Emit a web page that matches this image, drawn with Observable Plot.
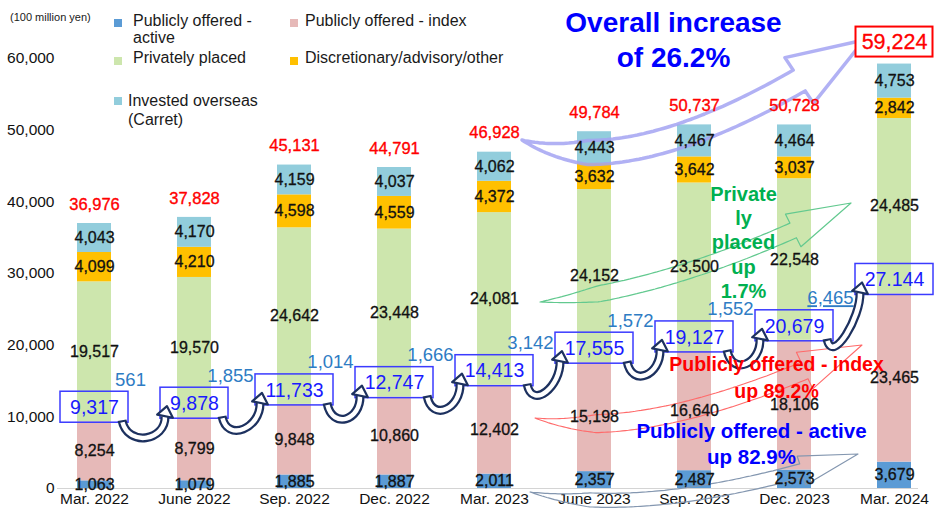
<!DOCTYPE html>
<html><head><meta charset="utf-8">
<script src="https://cdn.jsdelivr.net/npm/d3@7"></script>
<script src="https://cdn.jsdelivr.net/npm/@observablehq/plot@0.6"></script>
<style>
body{margin:0;background:#fff;font-family:"Liberation Sans",Arial,Helvetica,sans-serif;}
#wrap{position:relative;width:940px;height:509px;overflow:hidden;background:#fff;}
#chart{position:absolute;left:0;top:0;}
.lg{position:absolute;font-size:16px;color:#1a1a1a;line-height:17px;white-space:nowrap;}
.sw{position:absolute;width:8px;height:8px;}
</style></head><body>
<div id="wrap"><div id="chart"></div></div>
<script>
// ---------- data ----------
const categories = ["Mar. 2022","June 2022","Sep. 2022","Dec. 2022","Mar. 2023","June 2023","Sep. 2023","Dec. 2023","Mar. 2024"];
const seriesNames = ["Publicly offered - active","Publicly offered - index","Privately placed","Discretionary/advisory/other","Invested overseas (Carret)"];
const legendLabels = ["Publicly offered -<br>active","Publicly offered - index","Privately placed","Discretionary/advisory/other","Invested overseas<br>(Carret)"];
const seriesColors = ["#5b9bd5","#e6b9b8","#cde6ad","#ffc000","#92cddc"];
const publiclyActive = [1063,1079,1885,1887,2011,2357,2487,2573,3679];
const publiclyIndex = [8254,8799,9848,10860,12402,15198,16640,18106,23465];
const privatelyPlaced = [19517,19570,24642,23448,24081,24152,23500,22548,24485];
const discretionary = [4099,4210,4598,4559,4372,3632,3642,3037,2842];
const investedOverseas = [4043,4170,4159,4037,4062,4443,4467,4464,4753];
const totals = [36976,37828,45131,44791,46928,49784,50737,50728,59224];
const publicTotals = [9317,9878,11733,12747,14413,17555,19127,20679,27144];
const publicTotalLabels = ["9,317","9,878","11,733","12,747","14,413","17,555","19,127","20,679","27.144"];
const publicIncrease = [561,1855,1014,1666,3142,1572,1552,6465];
const yTicks = [0,10000,20000,30000,40000,50000,60000];
const unitLabel = "(100 million yen)";

const FONT = '"Liberation Sans", Arial, Helvetica, sans-serif';
const fmt = d3.format(",");

// ---------- derived tables ----------
const seriesValues = [publiclyActive, publiclyIndex, privatelyPlaced, discretionary, investedOverseas];
const rows = [];
categories.forEach((cat, i) => {
  let lo = 0;
  seriesValues.forEach((vals, s) => {
    const v = vals[i];
    rows.push({cat, series: seriesNames[s], value: v, lo, hi: lo + v});
    lo += v;
  });
});
const totalRows = categories.map((cat, i) => ({cat, total: totals[i], text: fmt(totals[i])}));
const pubRows = categories.map((cat, i) => ({cat, pub: publicTotals[i], label: publicTotalLabels[i]}));
const incRows = publicIncrease.map((v, i) => ({cat: categories[i], pub: publicTotals[i], text: fmt(v)}));
const boxHalf = lbl => lbl.length <= 5 ? 34 : 39;

// ---------- helpers ----------
function blockArrowPath(p0, c, p1, half, headHalf, headLen) {
  const N = 100;
  const B = t => [(1-t)*(1-t)*p0[0] + 2*t*(1-t)*c[0] + t*t*p1[0], (1-t)*(1-t)*p0[1] + 2*t*(1-t)*c[1] + t*t*p1[1]];
  const pts = d3.range(N + 1).map(i => B(i / N));
  const len = [0];
  for (let i = 1; i <= N; i++) len.push(len[i-1] + Math.hypot(pts[i][0]-pts[i-1][0], pts[i][1]-pts[i-1][1]));
  const L = len[N], hs = L - headLen;
  const left = [], right = [];
  let baseIdx = 0;
  for (let i = 0; i <= N && len[i] <= hs; i++) {
    const a = pts[Math.max(0, i-1)], b = pts[Math.min(N, i+1)];
    const dx = b[0]-a[0], dy = b[1]-a[1], m = Math.hypot(dx, dy) || 1;
    const nx = -dy/m, ny = dx/m;
    const w = half * Math.min(1, len[i] / (0.18 * L));
    left.push([pts[i][0] + nx*w, pts[i][1] + ny*w]);
    right.push([pts[i][0] - nx*w, pts[i][1] - ny*w]);
    baseIdx = i;
  }
  const bp = pts[baseIdx];
  const dx = p1[0]-bp[0], dy = p1[1]-bp[1], m = Math.hypot(dx, dy) || 1;
  const nx = -dy/m, ny = dx/m;
  const bl = [bp[0] + nx*headHalf, bp[1] + ny*headHalf];
  const br = [bp[0] - nx*headHalf, bp[1] - ny*headHalf];
  const poly = [...left, bl, p1, br, ...right.slice().reverse()];
  return "M" + poly.map(p => p[0].toFixed(1) + "," + p[1].toFixed(1)).join("L") + "Z";
}

function scaleHelpers(scales) {
  const x = scales.x, y = scales.y;
  const bw = typeof x.bandwidth === "function" ? x.bandwidth() : 0;
  const xc = c => x(c) + bw / 2;
  return {x, y, xc};
}

// decorative hollow trend arrows (anchored with the scales)
function trendArrows(index, scales) {
  const {y, xc} = scaleHelpers(scales);
  const g = d3.create("svg:g");
  const specs = [
    {stroke: "#a3a3f2", w: 3.5, op: 0.85, p0: ["Mar. 2023", 28, 48558], c: ["June 2023", 46, 41581], p1: ["Mar. 2024", -30, 62512], half: 12, headHalf: 27, headLen: 72},
    {stroke: "#62c98f", w: 1.2, op: 1, p0: ["June 2023", -54, 25953], c: ["Sep. 2023", -16, 27628], p1: ["Mar. 2024", -43, 39767], half: 8, headHalf: 18, headLen: 62},
    {stroke: "#ff6a6a", w: 1.1, op: 1, p0: ["June 2023", -59, 9767], c: ["June 2023", 56, 6000], p1: ["Mar. 2024", -32, 19953], half: 9, headHalf: 20, headLen: 60},
    {stroke: "#8497b0", w: 1.2, op: 1, p0: ["June 2023", -64, -558], c: ["June 2023", 56, -4465], p1: ["Mar. 2024", -36, 4744], half: 7, headHalf: 15, headLen: 55}
  ];
  const P = q => [xc(q[0]) + q[1], y(q[2])];
  for (const s of specs) {
    g.append("path")
      .attr("d", blockArrowPath(P(s.p0), P(s.c), P(s.p1), s.half, s.headHalf, s.headLen))
      .attr("fill", "none").attr("stroke", s.stroke).attr("stroke-width", s.w)
      .attr("stroke-opacity", s.op).attr("stroke-linejoin", "round");
  }
  return g.node();
}

// curved hollow arrows linking the public-offering boxes
function uArrows(index, scales) {
  const {y, xc} = scaleHelpers(scales);
  const g = d3.create("svg:g");
  const navy = "#1d315f";
  for (let i = 0; i < categories.length - 1; i++) {
    const P = xc(categories[i]), N = xc(categories[i+1]);
    const T = [P + boxHalf(publicTotalLabels[i]) - 6, y(publicTotals[i]) - 1];
    const H = [N - boxHalf(publicTotalLabels[i+1]) + 7, y(publicTotals[i+1]) - 11];
    const E = [H[0] - 2, H[1] + 10];
    const d = `M${T[0]},${T[1]} C${T[0]+5},${T[1]+27} ${E[0]+1},${E[1]+25} ${E[0]},${E[1]}`;
    g.append("path").attr("d", d).attr("fill", "none").attr("stroke", navy).attr("stroke-width", 9);
    g.append("path").attr("d", d).attr("fill", "none").attr("stroke", "#fff").attr("stroke-width", 4.5)
      .attr("stroke-dasharray", "0 2 3000");
    const dx = H[0]-E[0], dy = H[1]-E[1], m = Math.hypot(dx, dy);
    const nx = -dy/m, ny = dx/m, hw = 8;
    const b1 = [E[0] + nx*hw, E[1] + ny*hw], b2 = [E[0] - nx*hw, E[1] - ny*hw];
    g.append("path").attr("d", `M${H[0]},${H[1]}L${b1[0]},${b1[1]}L${b2[0]},${b2[1]}Z`)
      .attr("fill", "#fff").attr("stroke", navy).attr("stroke-width", 2.2).attr("stroke-linejoin", "round");
  }
  return g.node();
}

const lastTotal = [totalRows[totalRows.length - 1]];
const annotations = [
  {cat: "Sep. 2023", v: 62860, dx: -21, t: "Overall increase\nof 26.2%", size: 28, color: "#0000ff", lh: 1.25},
  {cat: "Sep. 2023", v: 34465, dx: 49, t: "Private\nly\nplaced\nup\n1.7%", size: 20, color: "#00b050", lh: 1.22},
  {cat: "Dec. 2023", v: 15698, dx: -18, t: "Publicly offered - index\nup 89.2%", size: 19.5, color: "#ff0000", lh: 1.38},
  {cat: "Dec. 2023", v: 6419, dx: -43, t: "Publicly offered - active\nup 82.9%", size: 20.5, color: "#0000ff", lh: 1.27}
];

const chart = Plot.plot({
  width: 940, height: 509,
  marginTop: 58, marginBottom: 21, marginLeft: 57, marginRight: 22,
  style: {fontFamily: FONT, fontSize: "15.5px", color: "#111", background: "white", overflow: "visible"},
  x: {domain: categories, range: [60, 928], paddingInner: 0.663, paddingOuter: 0.13, tickSize: 0, tickPadding: 4, label: null},
  y: {domain: [0, 60000], ticks: yTicks, tickFormat: fmt, tickSize: 0, tickPadding: 3, label: null},
  color: {domain: seriesNames, range: seriesColors},
  marks: [
    Plot.ruleY([0], {stroke: "#d4d4d4", strokeWidth: 1.2}),
    Plot.barY(rows, {x: "cat", y1: "lo", y2: "hi", fill: "series"}),
    trendArrows,
    Plot.text(rows, {x: "cat", y: d => (d.lo + d.hi) / 2, text: d => fmt(d.value), fontSize: 16, fill: "#111", stroke: "#111", strokeWidth: 0.3}),
    Plot.text(totalRows.slice(0, -1), {x: "cat", y: "total", dy: -19, text: "text", fill: "#ff0000", stroke: "#ff0000", strokeWidth: 0.35, fontSize: 16.5}),
    Plot.barY(lastTotal, {x: "cat", y1: "total", y2: "total", insetTop: -37, insetBottom: 7, insetLeft: -21.5, insetRight: -21.5, fill: "white", stroke: "#ff0000", strokeWidth: 2}),
    Plot.text(lastTotal, {x: "cat", y: "total", dy: -22, text: "text", fill: "#ff0000", stroke: "#ff0000", strokeWidth: 0.3, fontSize: 21.5}),
    Plot.barY(pubRows.filter(d => d.label.length <= 5), {x: "cat", y1: "pub", y2: "pub", insetTop: -30, insetBottom: -1, insetLeft: -17, insetRight: -17, fill: "none", stroke: "#3b3bff", strokeWidth: 1.5}),
    Plot.barY(pubRows.filter(d => d.label.length > 5), {x: "cat", y1: "pub", y2: "pub", insetTop: -30, insetBottom: -1, insetLeft: -22, insetRight: -22, fill: "none", stroke: "#3b3bff", strokeWidth: 1.5}),
    Plot.text(pubRows, {x: "cat", y: "pub", dy: -14, text: "label", fill: "#1a1aff", fontSize: 19.5}),
    Plot.text(incRows, {x: "cat", y: "pub", dx: 36, dy: -42, text: "text", fill: "#2e7cc4", fontSize: 18.5}),
    uArrows,
    ...annotations.map(a => Plot.text([a], {x: "cat", y: "v", dx: a.dx, text: "t", fontSize: a.size, fontWeight: "bold", fill: a.color, lineHeight: a.lh}))
  ]
});
document.getElementById("chart").appendChild(chart);

// underline the last increase label
d3.select(chart).selectAll("text").filter(function() { return this.textContent === fmt(publicIncrease[publicIncrease.length - 1]); })
  .style("text-decoration", "underline");

// ---------- legend & unit label (HTML overlay) ----------
const wrap = document.getElementById("wrap");
const unit = document.createElement("div");
unit.className = "lg"; unit.style.cssText = "left:10px;top:10px;font-size:11px;line-height:14px;";
unit.textContent = unitLabel;
wrap.appendChild(unit);
const legendLayout = [[114, 19, 133, 12], [290, 19, 305, 12], [114, 57, 133, 49], [290, 57, 305, 49], [114, 97, 128, 91]];
seriesNames.forEach((name, i) => {
  const [sx, sy, tx, ty] = legendLayout[i];
  const sw = document.createElement("div");
  sw.className = "sw"; sw.style.left = sx + "px"; sw.style.top = sy + "px"; sw.style.background = seriesColors[i];
  wrap.appendChild(sw);
  const t = document.createElement("div");
  t.className = "lg"; t.style.left = tx + "px"; t.style.top = ty + "px";
  if (i === 4) t.style.lineHeight = "19px";
  t.innerHTML = legendLabels[i];
  wrap.appendChild(t);
});
</script>
</body></html>
